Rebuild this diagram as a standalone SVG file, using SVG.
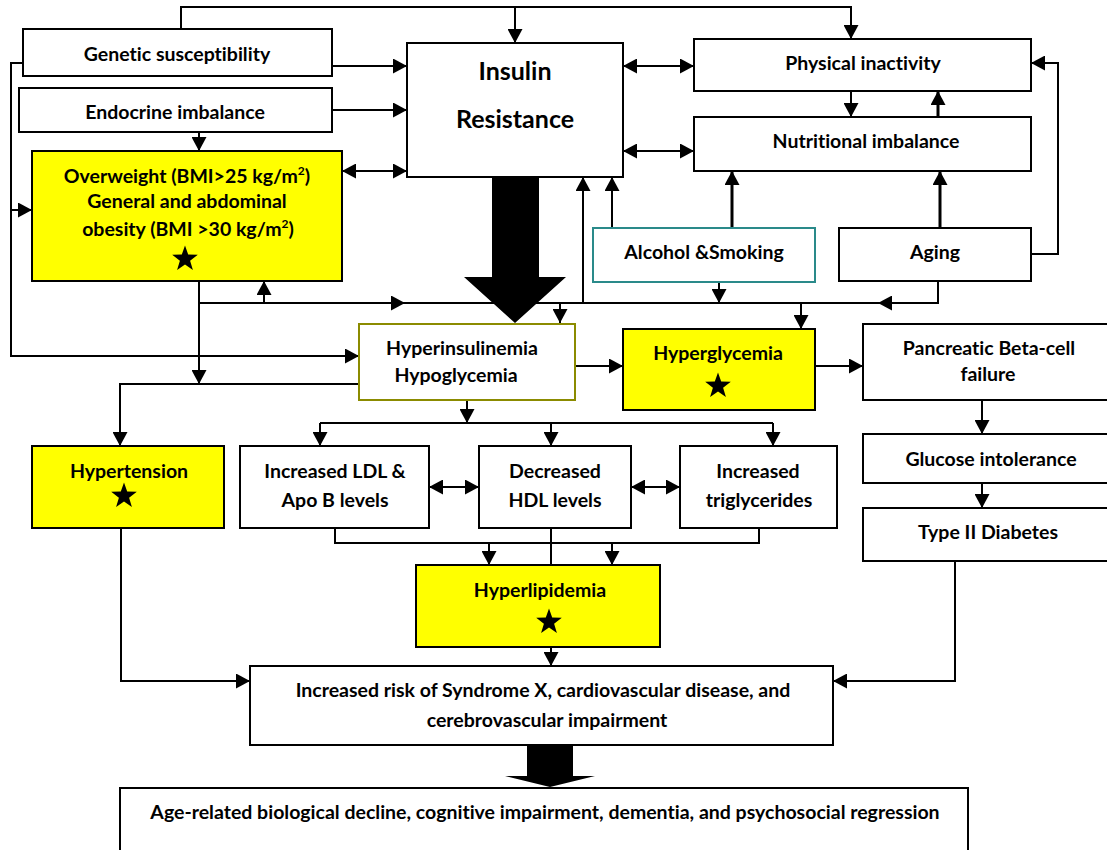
<svg xmlns="http://www.w3.org/2000/svg" xmlns:xlink="http://www.w3.org/1999/xlink" width="1107" height="850" viewBox="0 0 1107 850">
<style>
  .box{fill:#fff;stroke:#000;stroke-width:2}
  .yel{fill:#ffff00;stroke:#000;stroke-width:2}
  .t{font-family:Lato,"Liberation Sans",sans-serif;font-weight:bold;font-size:19.5px;fill:#000;text-anchor:middle;font-variant-ligatures:none}
  .big{font-size:25px}
  .c{fill:none;stroke:#000;stroke-width:2}
  .thick{stroke-width:3}
  .a{marker-end:url(#ah)}
  .d{marker-start:url(#ahs);marker-end:url(#ah)}
</style>
<defs>
  <marker id="ah" markerUnits="userSpaceOnUse" markerWidth="15" markerHeight="15" refX="14" refY="7.5" orient="auto">
    <path d="M0,0 L14,7.5 L0,15 z" fill="#000"/>
  </marker>
  <marker id="ahs" markerUnits="userSpaceOnUse" markerWidth="15" markerHeight="15" refX="0" refY="7.5" orient="auto">
    <path d="M14,0 L0,7.5 L14,15 z" fill="#000"/>
  </marker>
  <path id="star" d="M0,-13.5 L3.2,-4.4 L12.8,-4.2 L5.1,1.7 L7.9,10.9 L0,5.4 L-7.9,10.9 L-5.1,1.7 L-12.8,-4.2 L-3.2,-4.4 z" fill="#000"/>
</defs>

<g id="connectors">
  <path class="c" d="M181,29 V7 H851 V39" marker-end="url(#ah)"/>
  <path class="c a" d="M515,7 V43"/>
  <path class="c a" d="M332,66 H407"/>
  <path class="c a" d="M332,110 H407"/>
  <path class="c a" d="M199,132 V151"/>
  <path class="c d" d="M342,171 H407"/>
  <path class="c d" d="M623,66 H694"/>
  <path class="c d" d="M623,151 H694"/>
  <path class="c a" d="M851,91 V117"/>
  <path class="c thick a" d="M938,117 V91"/>
  <path class="c thick a" d="M732,228 V171"/>
  <path class="c thick a" d="M940,228 V171"/>
  <path class="c a" d="M1031,254 H1058 V63 H1031"/>
  <path class="c a" d="M612,228 V177"/>
  <path class="c a" d="M199,303 H405"/>
  <path class="c" d="M405,303 H878"/>
  <path class="c a" d="M938,281 V303 H878"/>
  <path class="c a" d="M264,303 V281"/>
  <path class="c a" d="M560,303 V323"/>
  <path class="c a" d="M583,303 V177"/>
  <path class="c a" d="M719,282 V303"/>
  <path class="c a" d="M801,303 V329"/>
  <path class="c a" d="M23,63 H11 V356 H359"/>
  <path class="c a" d="M11,210 H32"/>
  <path class="c a" d="M199,281 V384"/>
  <path class="c a" d="M359,384 H120 V446"/>
  <path class="c a" d="M575,366 H623"/>
  <path class="c a" d="M815,366 H863"/>
  <path class="c a" d="M982,400 V434"/>
  <path class="c a" d="M982,483 V508"/>
  <path class="c a" d="M467,400 V423"/>
  <path class="c" d="M320,423 H773"/>
  <path class="c a" d="M320,423 V446"/>
  <path class="c a" d="M551,423 V446"/>
  <path class="c a" d="M773,423 V446"/>
  <path class="c d" d="M429,487 H479"/>
  <path class="c d" d="M631,487 H680"/>
  <path class="c" d="M335,528 V543 H759 V528"/>
  <path class="c a" d="M489,543 V565"/>
  <path class="c a" d="M612,543 V565"/>
  <path class="c" d="M551,528 V565"/>
  <path class="c a" d="M551,647 V666"/>
  <path class="c a" d="M121,528 V681 H250"/>
  <path class="c a" d="M955,561 V681 H833"/>
  <polygon points="492,177 539,177 539,277 566,277 515,323 464,277 492,277" fill="#000"/>
  <polygon points="527,745 573,745 573,776 595,776 550,787 505,776 527,776" fill="#000"/>
</g>

<g id="genetic"><rect class="box" x="23" y="29" width="309" height="47"/><text class="t" x="177" y="61">Genetic susceptibility</text></g>
<g id="endocrine"><rect class="box" x="19" y="88" width="313" height="44"/><text class="t" x="175" y="119">Endocrine imbalance</text></g>
<g id="overweight"><rect class="yel" x="32" y="151" width="310" height="130"/>
  <text class="t" x="187" y="183">Overweight (BMI&gt;25 kg/m<tspan font-size="12" dy="-8">2</tspan><tspan dy="8">)</tspan></text>
  <text class="t" x="187" y="208">General and abdominal</text>
  <text class="t" x="188" y="236">obesity (BMI &gt;30 kg/m<tspan font-size="12" dy="-8">2</tspan><tspan dy="8">)</tspan></text>
  <use xlink:href="#star" x="185" y="259"/></g>
<g id="insulin"><rect class="box" x="407" y="43" width="216" height="134"/><text class="t big" x="515" y="80">Insulin</text><text class="t big" x="515" y="128">Resistance</text></g>
<g id="physical"><rect class="box" x="694" y="39" width="337" height="52"/><text class="t" x="863" y="70">Physical inactivity</text></g>
<g id="nutritional"><rect class="box" x="694" y="117" width="337" height="54"/><text class="t" x="866" y="148">Nutritional imbalance</text></g>
<g id="alcohol"><rect x="593" y="228" width="222" height="54" fill="#fff" stroke="#2A8A8A" stroke-width="2"/><text class="t" x="704" y="259">Alcohol &amp;Smoking</text></g>
<g id="aging"><rect class="box" x="839" y="228" width="192" height="53"/><text class="t" x="935" y="259">Aging</text></g>
<g id="hyperinsulinemia"><rect x="359" y="324" width="216" height="76" fill="#fff" stroke="#8B8B00" stroke-width="2"/><text class="t" x="462" y="355">Hyperinsulinemia</text><text class="t" x="456" y="382">Hypoglycemia</text></g>
<g id="hyperglycemia"><rect class="yel" x="623" y="329" width="192" height="81"/><text class="t" x="718" y="360">Hyperglycemia</text><use xlink:href="#star" x="718" y="386"/></g>
<g id="pancreatic"><rect class="box" x="863" y="324" width="250" height="76"/><text class="t" x="989" y="355">Pancreatic Beta-cell</text><text class="t" x="988" y="381">failure</text></g>
<g id="glucose"><rect class="box" x="863" y="434" width="250" height="49"/><text class="t" x="991" y="466">Glucose intolerance</text></g>
<g id="type2"><rect class="box" x="863" y="508" width="250" height="53"/><text class="t" x="988" y="539">Type II Diabetes</text></g>
<g id="hypertension"><rect class="yel" x="32" y="446" width="192" height="82"/><text class="t" x="129" y="478">Hypertension</text><use xlink:href="#star" x="124" y="496"/></g>
<g id="ldl"><rect class="box" x="240" y="446" width="189" height="82"/><text class="t" x="335" y="478">Increased LDL &amp;</text><text class="t" x="335" y="507">Apo B levels</text></g>
<g id="hdl"><rect class="box" x="479" y="446" width="152" height="82"/><text class="t" x="555" y="478">Decreased</text><text class="t" x="555" y="507">HDL levels</text></g>
<g id="triglycerides"><rect class="box" x="680" y="446" width="157" height="82"/><text class="t" x="758" y="478">Increased</text><text class="t" x="759" y="507">triglycerides</text></g>
<g id="hyperlipidemia"><rect class="yel" x="416" y="565" width="244" height="82"/><text class="t" x="540" y="597">Hyperlipidemia</text><use xlink:href="#star" x="549" y="622"/></g>
<g id="risk"><rect class="box" x="250" y="666" width="583" height="79"/><text class="t" x="543" y="697">Increased risk of Syndrome X, cardiovascular disease, and</text><text class="t" x="547" y="727">cerebrovascular impairment</text></g>
<g id="outcome"><rect class="box" x="120" y="788" width="848" height="75"/><text class="t" x="545" y="819">Age-related biological decline, cognitive impairment, dementia, and psychosocial regression</text></g>
</svg>
